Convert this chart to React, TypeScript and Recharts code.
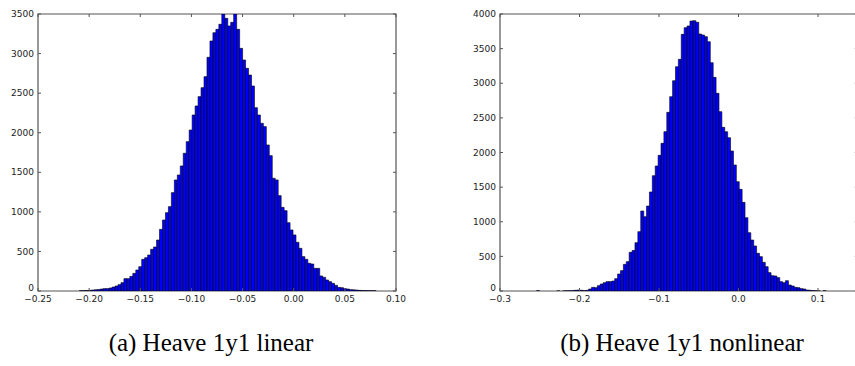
import React from 'react';
import { BarChart, Bar, XAxis, YAxis, ReferenceArea } from 'recharts';

// histogram bins (matplotlib hist, 100 bins): left edge of first bin + bin width
const linearStart = -0.2095;
const linearBinWidth = 0.0029;
const linearCounts = [
  4, 4, 6, 8, 12, 16, 18, 25, 30, 30,
  38, 50, 63, 80, 105, 156, 156, 185, 223, 265,
  307, 400, 421, 455, 527, 556, 644, 779, 897, 990,
  1066, 1243, 1403, 1466, 1580, 1740, 1887, 2034, 2224, 2338,
  2456, 2569, 2708, 2953, 3159, 3264, 3306, 3370, 3500, 3445,
  3349, 3395, 3500, 3306, 3066, 2919, 2814, 2729, 2590, 2317,
  2224, 2119, 2077, 1845, 1710, 1424, 1403, 1205, 1057, 1015,
  863, 771, 708, 615, 539, 434, 400, 350, 341, 286,
  286, 190, 173, 139, 118, 97, 72, 46, 42, 30,
  25, 17, 15, 12, 8, 6, 5, 4, 3, 3,
];

const nonlinearStart = -0.254;
const nonlinearBinWidth = 0.00364;
const nonlinearCounts = [
  4, 0, 0, 0, 0, 0, 0, 1, 0, 1,
  2, 3, 5, 10, 14, 10, 5, 10, 29, 53,
  48, 77, 101, 120, 135, 135, 144, 178, 245, 294,
  385, 424, 558, 585, 698, 857, 1155, 1073, 1227, 1430,
  1665, 1805, 1959, 2132, 2301, 2580, 2806, 3037, 3239, 3345,
  3706, 3803, 3827, 3899, 3904, 3880, 3711, 3697, 3673, 3600,
  3297, 3085, 2854, 2590, 2363, 2300, 2214, 2022, 1820, 1579,
  1468, 1280, 1059, 842, 736, 650, 544, 496, 414, 351,
  265, 221, 217, 193, 135, 120, 149, 87, 72, 53,
  48, 34, 29, 14, 10, 5, 4, 1, 0, 3,
];

const linearXTicks = [-0.25, -0.2, -0.15, -0.1, -0.05, 0, 0.05, 0.1];
const linearYTicks = [0, 500, 1000, 1500, 2000, 2500, 3000, 3500];
const nonlinearXTicks = [-0.3, -0.2, -0.1, 0, 0.1];
const nonlinearYTicks = [0, 500, 1000, 1500, 2000, 2500, 3000, 3500, 4000];

const TICK_MARGIN = 4;
const TICK_LEN = 3;
const FRAME = '#555';
const LABEL_FONT = { fontFamily: 'DejaVu Sans', fontSize: 9, fill: '#222' };

function fmt(v: number, decimals: number) {
  const s = Math.abs(v) < 1e-9 ? (0).toFixed(decimals) : v.toFixed(decimals);
  return s.replace('-', '\u2212');
}

function makeXTick(decimals: number, plotTop: number) {
  return (props: any) => {
    const { x, y, payload } = props;
    const axisY = y - TICK_MARGIN;
    return (
      <g>
        <line x1={x} x2={x} y1={axisY} y2={axisY - TICK_LEN} stroke={FRAME} />
        <line x1={x} x2={x} y1={plotTop} y2={plotTop + TICK_LEN} stroke={FRAME} />
        <text x={x} y={y + 1} dy="0.71em" textAnchor="middle" {...LABEL_FONT}>
          {fmt(payload.value, decimals)}
        </text>
      </g>
    );
  };
}

function makeYTick(plotRight: number) {
  return (props: any) => {
    const { x, y, payload } = props;
    const axisX = x + TICK_MARGIN;
    // the "0" label sits right on the corner, lift it a little off the x labels
    const ty = payload.value === 0 ? y - 3 : y;
    return (
      <g>
        <line x1={axisX} x2={axisX + TICK_LEN} y1={y} y2={y} stroke={FRAME} />
        <line x1={plotRight} x2={plotRight - TICK_LEN} y1={y} y2={y} stroke={FRAME} />
        <text x={x} y={ty} dy="0.35em" textAnchor="end" {...LABEL_FONT}>
          {payload.value}
        </text>
      </g>
    );
  };
}

interface HistProps {
  counts: number[];
  start: number;
  binWidth: number;
  xDomain: [number, number];
  yMax: number;
  xTicks: number[];
  yTicks: number[];
  decimals: number;
  width: number;
  height: number;
  plotLeft: number;
  plotRight: number;
}

const PLOT_TOP = 14;
const PLOT_BOTTOM = 291;
const Y_AXIS_W = 36;
const X_AXIS_H = 19;

function Histogram(p: HistProps) {
  const data = p.counts.map((c, i) => ({ x: p.start + p.binWidth * (i + 0.5), count: c }));
  const margin = {
    top: PLOT_TOP,
    left: p.plotLeft - Y_AXIS_W,
    right: p.width - p.plotRight,
    bottom: p.height - PLOT_BOTTOM - X_AXIS_H,
  };
  return (
    <BarChart width={p.width} height={p.height} data={data} margin={margin} barCategoryGap={0} barGap={0}>
      <XAxis
        dataKey="x"
        type="number"
        domain={p.xDomain}
        ticks={p.xTicks}
        allowDataOverflow
        height={X_AXIS_H}
        axisLine={false}
        tickLine={false}
        tickSize={0}
        tickMargin={TICK_MARGIN}
        interval={0}
        tick={makeXTick(p.decimals, PLOT_TOP)}
      />
      <YAxis
        type="number"
        domain={[0, p.yMax]}
        ticks={p.yTicks}
        allowDataOverflow
        width={Y_AXIS_W}
        axisLine={false}
        tickLine={false}
        tickSize={0}
        tickMargin={TICK_MARGIN}
        interval={0}
        tick={makeYTick(p.plotRight)}
      />
      <Bar dataKey="count" fill="#0000ff" stroke="#000" strokeWidth={0.6} isAnimationActive={false} />
      <ReferenceArea x1={p.xDomain[0]} x2={p.xDomain[1]} y1={0} y2={p.yMax} fill="none" stroke={FRAME} strokeWidth={1.2} />
    </BarChart>
  );
}

const captionStyle: React.CSSProperties = {
  position: 'absolute',
  top: 328,
  width: 400,
  textAlign: 'center',
  fontFamily: 'Liberation Serif',
  fontSize: 25,
  color: '#000',
  lineHeight: '30px',
};

export default function App() {
  return (
    <div style={{ position: 'absolute', left: 0, top: 0, width: 855, height: 366, overflow: 'hidden', background: '#fff' }}>
      <div style={{ position: 'absolute', left: 0, top: 0 }}>
        <Histogram
          counts={linearCounts}
          start={linearStart}
          binWidth={linearBinWidth}
          xDomain={[-0.25, 0.1]}
          yMax={3500}
          xTicks={linearXTicks}
          yTicks={linearYTicks}
          decimals={2}
          width={420}
          height={310}
          plotLeft={38}
          plotRight={396}
        />
      </div>
      <div style={{ position: 'absolute', left: 440, top: 0 }}>
        <Histogram
          counts={nonlinearCounts}
          start={nonlinearStart}
          binWidth={nonlinearBinWidth}
          xDomain={[-0.3, 0.15]}
          yMax={4000}
          xTicks={nonlinearXTicks}
          yTicks={nonlinearYTicks}
          decimals={1}
          width={430}
          height={310}
          plotLeft={60}
          plotRight={417.75}
        />
      </div>
      <div style={{ ...captionStyle, left: 11 }}>(a) Heave 1y1 linear</div>
      <div style={{ ...captionStyle, left: 482 }}>(b) Heave 1y1 nonlinear</div>
    </div>
  );
}
